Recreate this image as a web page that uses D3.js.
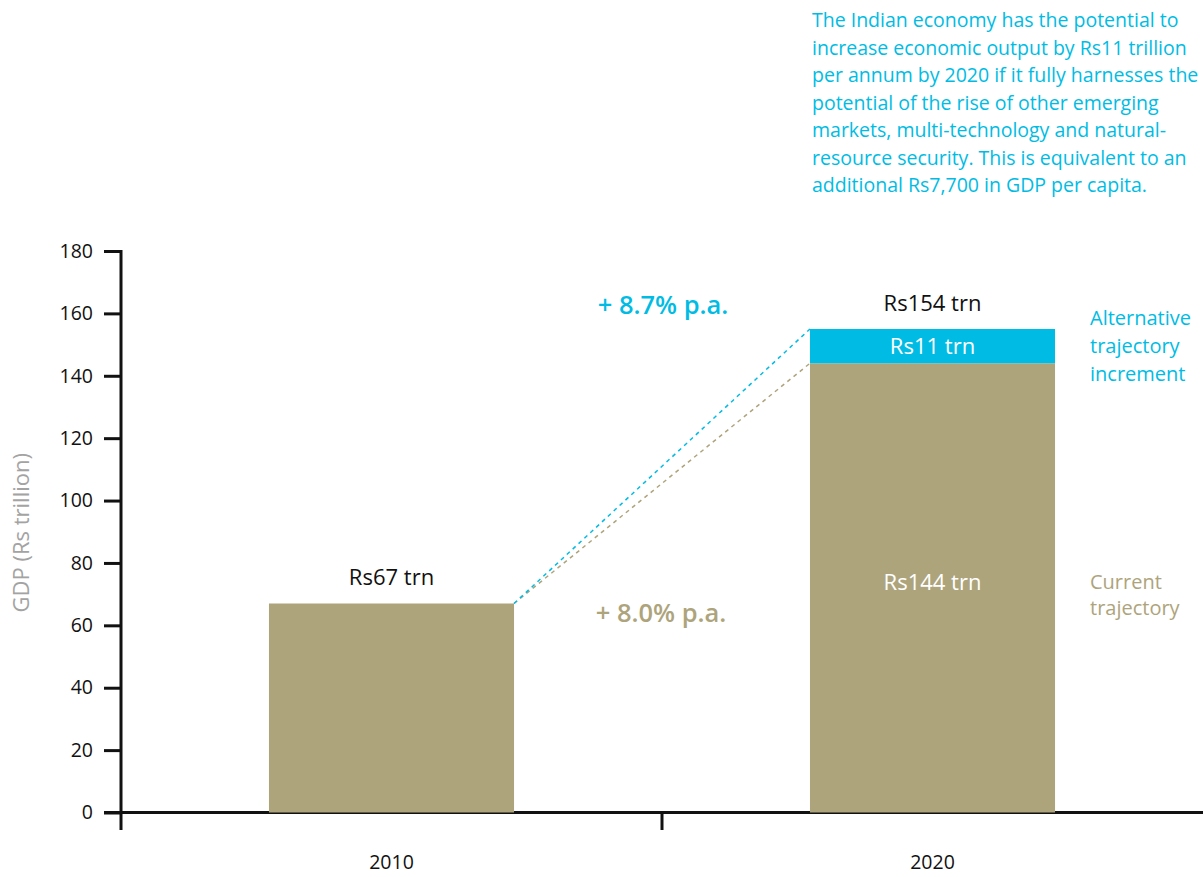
<!DOCTYPE html>
<html>
<head>
<meta charset="utf-8">
<script src="https://cdn.jsdelivr.net/npm/d3@7"></script>
<style>
  html, body { margin: 0; padding: 0; background: #fff; }
  svg { display: block; font-family: "Open Sans", "Noto Sans", sans-serif; }
</style>
</head>
<body>
<svg id="chart" width="1203" height="877"></svg>
<script>
// GDP in Rs trillion
const years = ["2010", "2020"];
const currentTrajectory = [67, 144];
const alternativeIncrement = [0, 11];
const totalLabels = ["Rs67 trn", "Rs154 trn"];
const yTicks = [0, 20, 40, 60, 80, 100, 120, 140, 160, 180];
const growthRates = ["+ 8.7% p.a.", "+ 8.0% p.a."];
const noteLines = [
  "The Indian economy has the potential to",
  "increase economic output by Rs11 trillion",
  "per annum by 2020 if it fully harnesses the",
  "potential of the rise of other emerging",
  "markets, multi-technology and natural-",
  "resource security. This is equivalent to an",
  "additional Rs7,700 in GDP per capita."
];

const BEIGE = "#aea47c";
const CYAN = "#00bce4";

const svg = d3.select("#chart");

const x = d3.scaleBand()
  .domain(years)
  .range([121, 1203])
  .paddingInner(0.547)
  .paddingOuter(0.2735);

const y = d3.scaleLinear().domain([0, 180]).range([812.5, 251]);

// y axis
const yAxis = svg.append("g")
  .attr("transform", "translate(121,0)")
  .call(d3.axisLeft(y).tickValues(yTicks).tickSize(17).tickPadding(11).tickSizeOuter(0));
yAxis.select(".domain").remove();
yAxis.selectAll(".tick line").attr("stroke", "#111").attr("stroke-width", 3);
yAxis.selectAll(".tick text")
  .attr("font-size", 19.5).attr("fill", "#111")
  .attr("font-family", "'Open Sans', sans-serif");
svg.append("line")
  .attr("x1", 121).attr("x2", 121)
  .attr("y1", y(180) - 1).attr("y2", 830)
  .attr("stroke", "#111").attr("stroke-width", 3);

// x axis baseline with ticks at category boundaries
svg.append("line")
  .attr("x1", 104).attr("x2", 1203)
  .attr("y1", y(0)).attr("y2", y(0))
  .attr("stroke", "#111").attr("stroke-width", 3);
const step = x.step();
const boundaries = years.map(d => x(d) - (step - x.bandwidth()) / 2);
svg.selectAll(".xtick").data(boundaries.slice(1)).enter().append("line")
  .attr("class", "xtick")
  .attr("x1", d => d).attr("x2", d => d)
  .attr("y1", y(0)).attr("y2", 830)
  .attr("stroke", "#111").attr("stroke-width", 3);

svg.selectAll(".xlabel").data(years).enter().append("text")
  .attr("x", d => x(d) + x.bandwidth() / 2)
  .attr("y", 869)
  .attr("text-anchor", "middle")
  .attr("font-size", 19.5)
  .attr("fill", "#111")
  .text(d => d);

// y axis title
svg.append("text")
  .attr("transform", `translate(29,${y(90) + 1}) rotate(-90)`)
  .attr("text-anchor", "middle")
  .attr("font-size", 22)
  .attr("fill", "#a3a3a3")
  .text("GDP (Rs trillion)");

// stacked bars
const rows = years.map((yr, i) => ({ yr, cur: currentTrajectory[i], inc: alternativeIncrement[i] }));

svg.selectAll(".bar-cur").data(rows).enter().append("rect")
  .attr("x", d => x(d.yr))
  .attr("width", x.bandwidth())
  .attr("y", d => y(d.cur))
  .attr("height", d => y(0) - y(d.cur))
  .attr("fill", BEIGE);

svg.selectAll(".bar-inc").data(rows.filter(d => d.inc > 0)).enter().append("rect")
  .attr("x", d => x(d.yr))
  .attr("width", x.bandwidth())
  .attr("y", d => y(d.cur + d.inc))
  .attr("height", d => y(d.cur) - y(d.cur + d.inc))
  .attr("fill", CYAN);

// dashed growth lines from 2010 bar top to 2020 segments
const a = rows[0], b = rows[1];
const x0 = x(a.yr) + x.bandwidth();
const x1 = x(b.yr);
svg.append("line")
  .attr("x1", x0).attr("y1", y(a.cur))
  .attr("x2", x1).attr("y2", y(b.cur))
  .attr("stroke", BEIGE).attr("stroke-width", 1.5).attr("stroke-dasharray", "4,4");
svg.append("line")
  .attr("x1", x0).attr("y1", y(a.cur))
  .attr("x2", x1).attr("y2", y(b.cur + b.inc))
  .attr("stroke", CYAN).attr("stroke-width", 1.5).attr("stroke-dasharray", "4,4");

// growth rate labels
svg.append("text")
  .attr("x", 663).attr("y", y(163) + 10)
  .attr("text-anchor", "middle")
  .attr("font-size", 25.5).attr("font-weight", 600)
  .attr("fill", CYAN)
  .text(growthRates[0]);
svg.append("text")
  .attr("x", 661).attr("y", y(64) + 9)
  .attr("text-anchor", "middle")
  .attr("font-size", 25.5).attr("font-weight", 600)
  .attr("fill", BEIGE)
  .text(growthRates[1]);

// value labels above bars
svg.selectAll(".total").data(rows).enter().append("text")
  .attr("x", d => x(d.yr) + x.bandwidth() / 2)
  .attr("y", d => y(d.cur + d.inc) - 18)
  .attr("text-anchor", "middle")
  .attr("font-size", 22)
  .attr("fill", "#111")
  .text((d, i) => totalLabels[i]);

// labels inside 2020 segments
svg.append("text")
  .attr("x", x(b.yr) + x.bandwidth() / 2)
  .attr("y", (y(b.cur) + y(b.cur + b.inc)) / 2 + 8)
  .attr("text-anchor", "middle")
  .attr("font-size", 22).attr("fill", "#fff")
  .text(`Rs${b.inc} trn`);
svg.append("text")
  .attr("x", x(b.yr) + x.bandwidth() / 2)
  .attr("y", y(74) + 8)
  .attr("text-anchor", "middle")
  .attr("font-size", 22).attr("fill", "#fff")
  .text(`Rs${b.cur} trn`);

// series labels on the right
const incCenter = (y(b.cur) + y(b.cur + b.inc)) / 2;
const incText = svg.append("text")
  .attr("x", 1090).attr("font-size", 20).attr("fill", CYAN);
["Alternative", "trajectory", "increment"].forEach((t, i) => {
  incText.append("tspan").attr("x", 1090).attr("y", incCenter + 7 + (i - 1) * 28).text(t);
});
const curText = svg.append("text")
  .attr("x", 1090).attr("font-size", 20).attr("fill", BEIGE);
["Current", "trajectory"].forEach((t, i) => {
  curText.append("tspan").attr("x", 1090).attr("y", y(74) + 7 + i * 26).text(t);
});

// explanatory note
const note = svg.append("text").attr("font-size", 19.5).attr("fill", CYAN);
noteLines.forEach((t, i) => {
  note.append("tspan").attr("x", 812).attr("y", 27 + i * 27.5).text(t);
});
</script>
</body>
</html>
